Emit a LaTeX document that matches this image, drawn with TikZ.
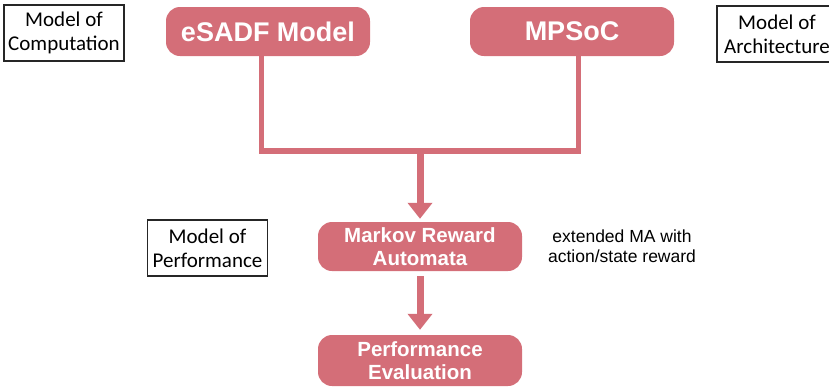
\documentclass[tikz,border=0pt]{standalone}
\usepackage{fontspec}
\newfontfamily\helvfont{Liberation Sans}
\newfontfamily\gillfont{Carlito}
\usetikzlibrary{positioning,arrows.meta}
\definecolor{rosebox}{RGB}{212,110,120}

\begin{document}
\begin{tikzpicture}[x=1pt, y=-1pt, node distance = 304pt and 304pt, on grid,
	block/.style ={rectangle, rounded corners=14pt, fill=rosebox, text=white, inner sep=0pt,
		minimum width=204pt, minimum height=49pt, align=center,
		font=\helvfont\bfseries\fontsize{20.5}{23}\selectfont},
	modelbox/.style ={rectangle, draw=black!85, line width=1.4pt, inner sep=0pt,
		minimum width=120pt, minimum height=56pt, align=center,
		font=\gillfont\fontsize{21}{24}\selectfont},
	busline/.style ={draw=rosebox, line width=5.5pt},
	flow/.style ={busline, line width=7pt, -{Triangle[width=24pt, length=16pt]}}]
	\useasboundingbox (0,0) rectangle (829,389);

	\node[block, font=\helvfont\bfseries\fontsize{27}{30}\selectfont] (esadf) at (268,31.5) {eSADF Model};
	\node[block, font=\helvfont\bfseries\fontsize{27}{30}\selectfont] (mpsoc) [right = of esadf] {MPSoC};
	\node[block] (mra) at (420,246.5) {Markov Reward\\Automata};
	\node[block, minimum height=51pt] (eval) at (420,360.5) {Performance\\Evaluation};

	\node[modelbox] (moc) at (64,33) {Model of\\Computation};
	\node[modelbox] (moa) at (777,34) {Model of\\Architecture};
	\node[modelbox] (mop) at (207.5,248) {Model of\\Performance};
	\node[align=center, font=\helvfont\fontsize{17.5}{20}\selectfont] (note) at (622,246) {extended MA with\\action/state reward};

	\coordinate (bus) at (420,151);
	\draw[busline] ([xshift=-6.5pt]esadf.south) |- (bus) -| ([xshift=6.5pt]mpsoc.south);
	\draw[flow] ([yshift=2.75pt]bus) -- ([yshift=3pt]mra.north);
	\draw[flow] ([yshift=-5pt]mra.south) -- ([yshift=5pt]eval.north);
\end{tikzpicture}
\end{document}
